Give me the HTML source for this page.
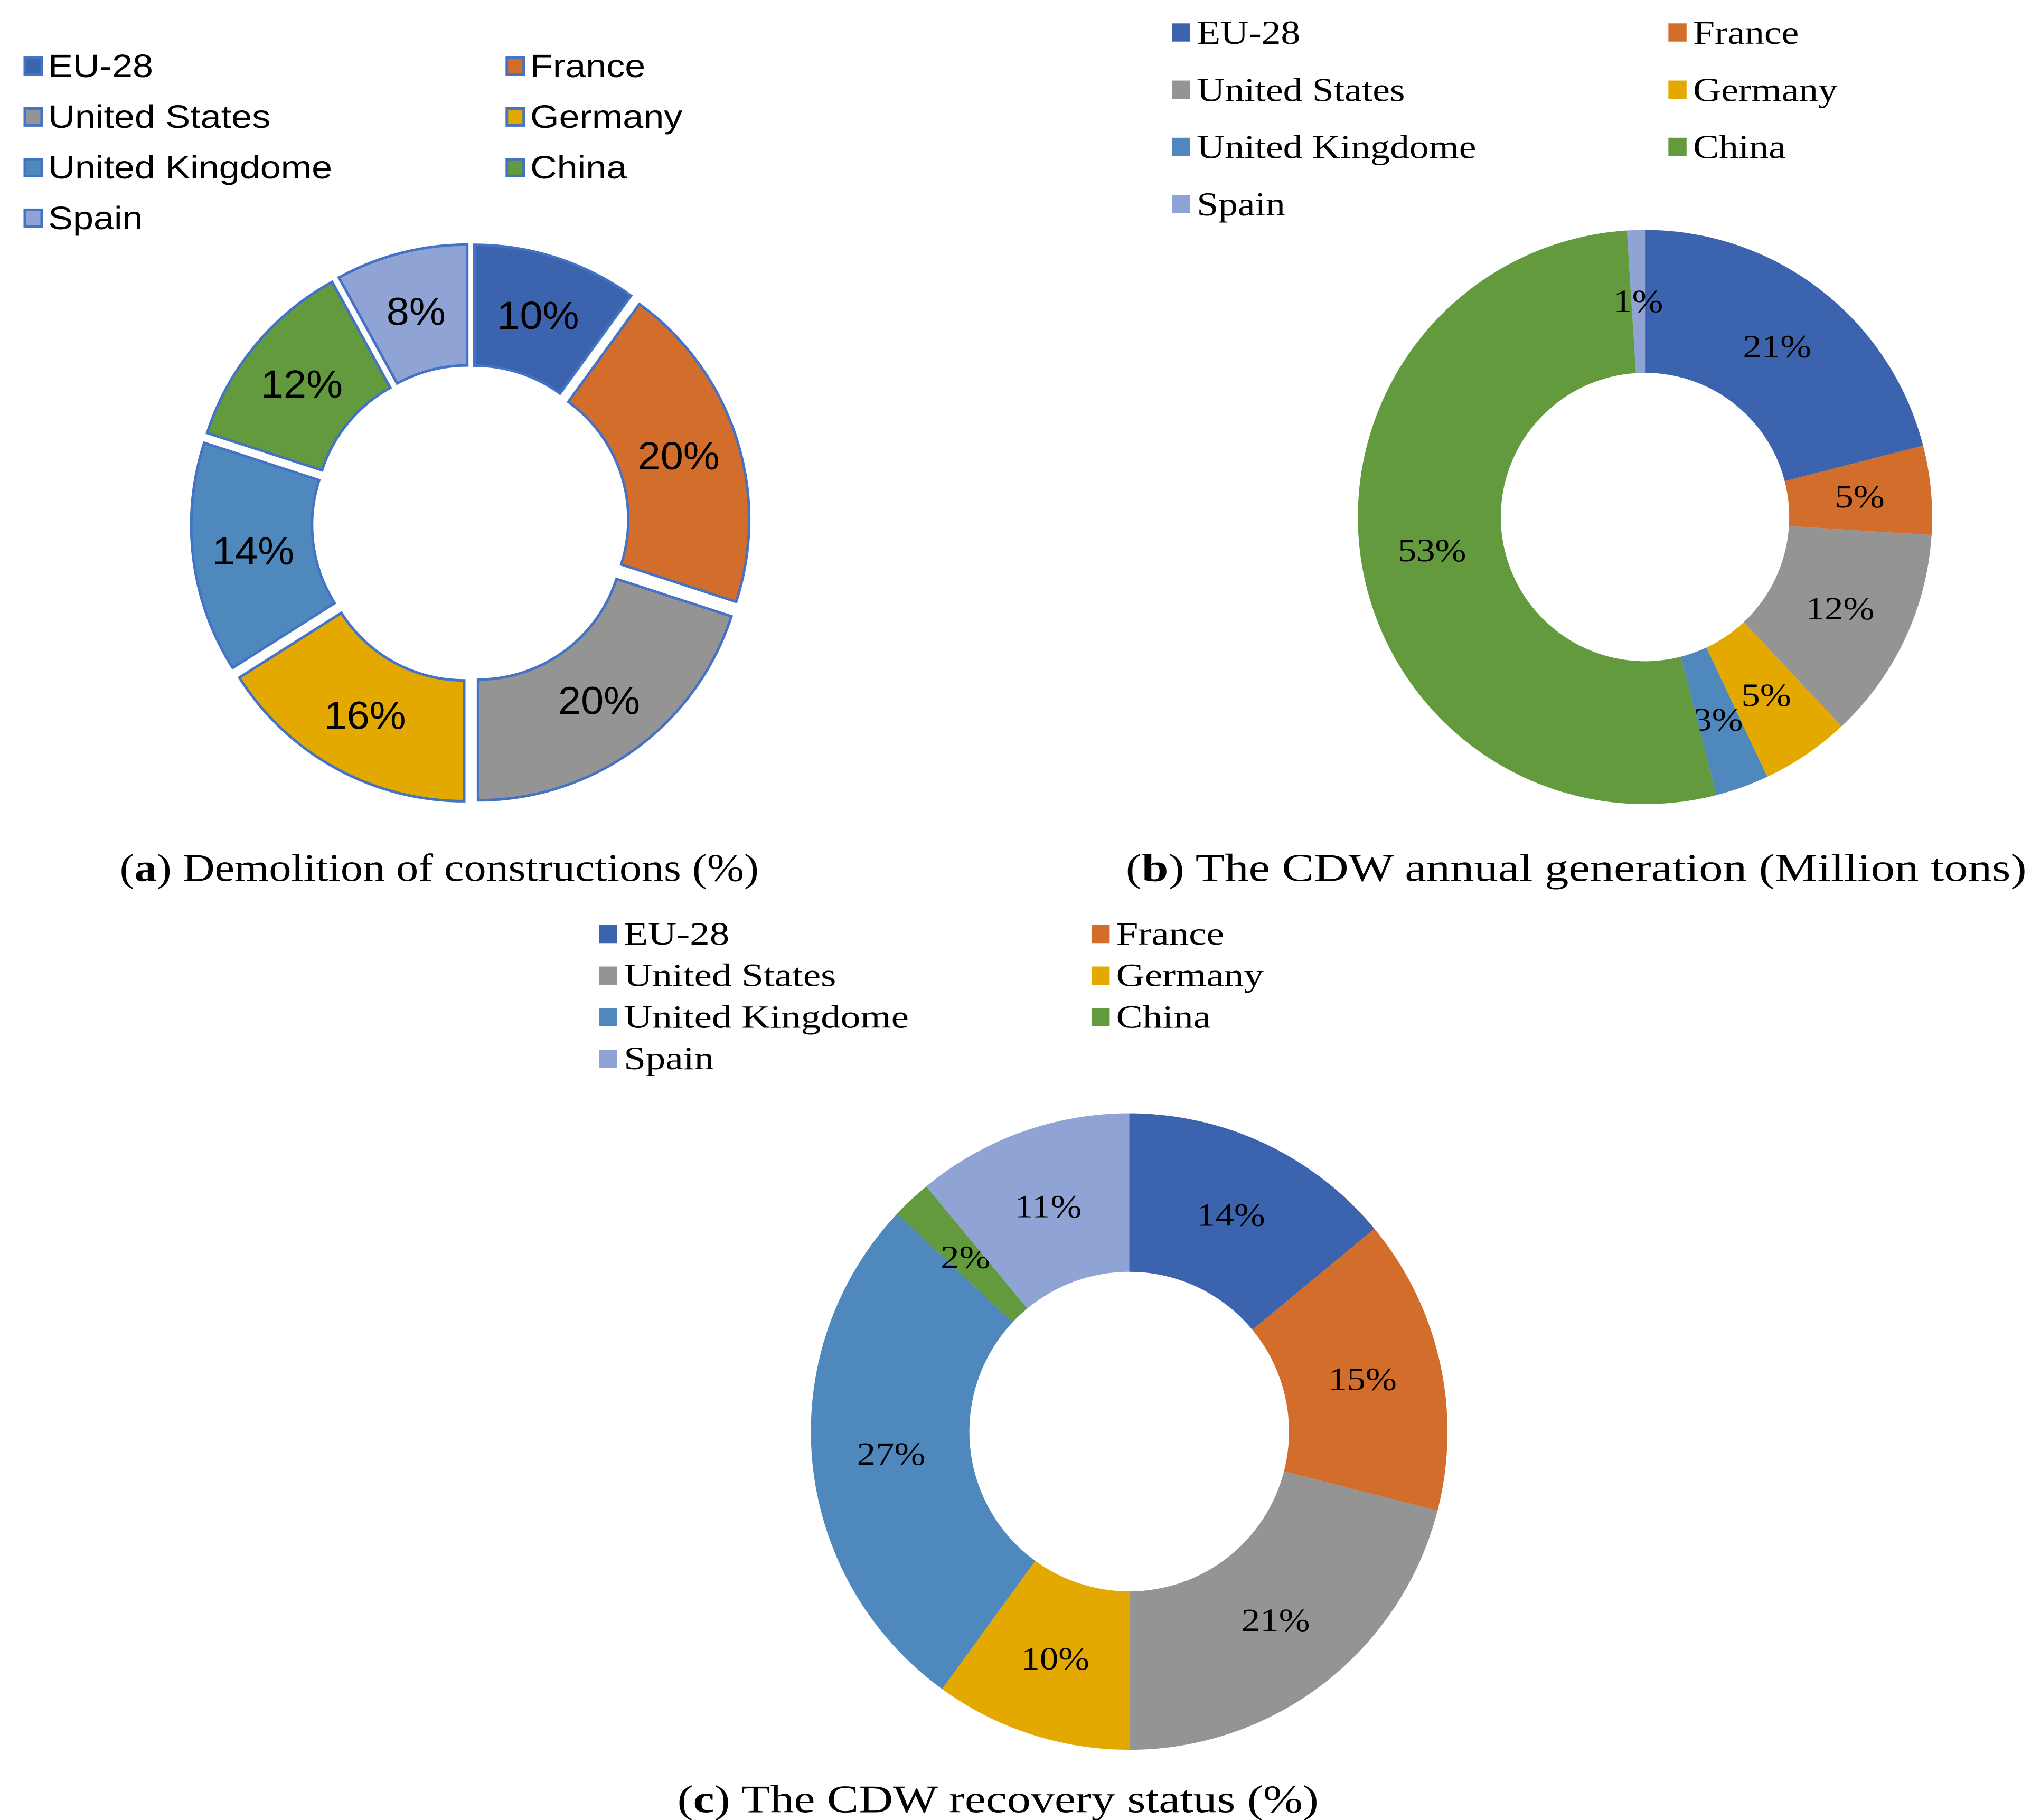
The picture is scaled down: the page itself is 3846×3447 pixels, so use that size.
<!DOCTYPE html>
<html><head><meta charset="utf-8"><style>
html,body{margin:0;padding:0;background:#fff;}
svg{display:block;}
</style></head><body>
<svg id="fig" width="3846" height="3447" viewBox="0 0 1563 1401" xmlns="http://www.w3.org/2000/svg"></svg>
<script>
const categories = ["EU-28","France","United States","Germany","United Kingdome","China","Spain"];
const colors = ["#3C63AD","#D36D2B","#949494","#E3A900","#4F88BC","#639A3D","#8FA3D5"];
const valuesA = [10,20,20,16,14,12,8];
const valuesB = [21,5,12,5,3,53,1];
const valuesC = [14,15,21,10,27,2,11];
const NS = "http://www.w3.org/2000/svg";
const svg = document.getElementById("fig");
function mk(tag, attrs, parent){ const e=document.createElementNS(NS,tag); for(const k in attrs) e.setAttribute(k,attrs[k]); (parent||svg).appendChild(e); return e; }
function stretch(t,k){ const w=t.getComputedTextLength(); t.setAttribute("textLength", w*k); t.setAttribute("lengthAdjust","spacingAndGlyphs"); }
function pt(cx,cy,r,a){ return [cx+r*Math.sin(a), cy-r*Math.cos(a)]; }
function donut(id, vals, cx, cy, ro, ri, opt){
  const g = mk("g",{});
  
  
  const tot = vals.reduce((a,b)=>a+b,0);
  let a0 = 0;
  vals.forEach((v,i)=>{
    const a1 = a0 + v/tot*2*Math.PI, am=(a0+a1)/2;
    const ox = opt.explode*Math.sin(am), oy = -opt.explode*Math.cos(am);
    const p1=pt(cx+ox,cy+oy,ro,a0), p2=pt(cx+ox,cy+oy,ro,a1), p3=pt(cx+ox,cy+oy,ri,a1), p4=pt(cx+ox,cy+oy,ri,a0);
    const lg = (a1-a0)>Math.PI?1:0;
    const d = `M${p1} A${ro},${ro} 0 ${lg} 1 ${p2} L${p3} A${ri},${ri} 0 ${lg} 0 ${p4} Z`;
    const p = mk("path",{d:d, fill:colors[i], stroke:opt.stroke, "stroke-width":opt.sw}, g);
    
    
    const lp = pt(cx+ox,cy+oy,(ro+ri)/2,am);
    const t = mk("text",{x:lp[0], y:lp[1], "text-anchor":"middle", "dominant-baseline":"central", "font-family":opt.font, "font-size":opt.fs, fill:"#000"}, g);
    t.textContent = v+"%";
    
    
    stretch(t, opt.k);
    a0 = a1;
  });
}
function legend(id, x1, x2, y0, dy, sq, fs, font, k, stroke){
  categories.forEach((c,i)=>{
    const x = i%2===0 ? x1 : x2, y = y0 + Math.floor(i/2)*dy;
    const r = mk("rect",{x:x, y:y-sq/2, width:sq, height:sq, fill:colors[i], stroke:stroke||"none", "stroke-width":2});
    
    
    const t = mk("text",{x:x+sq+5, y:y, "dominant-baseline":"central", "font-family":font, "font-size":fs, fill:"#000"});
    t.textContent = c;
    
    
    stretch(t,k);
  });
}
function caption(id, x, y, letter, rest, k){
  const t = mk("text",{x:x, y:y, "text-anchor":"middle", "dominant-baseline":"central", "font-family":"'Liberation Serif',serif", "font-size":30, fill:"#000"});
  t.innerHTML = `(<tspan font-weight="bold">${letter}</tspan>) ${rest}`;
  
  
  stretch(t,k);
}
const sans = "'Liberation Sans','DejaVu Sans',sans-serif", serif="'Liberation Serif',serif";
donut("a", valuesA, 362, 403, 205, 112, {explode:10, stroke:"#4472C4", sw:2, font:sans, fs:30, k:1.05});
legend("a", 19, 390, 51, 39, 13, 25, sans, 1.14, "#4472C4");
caption("a", 338, 668, "a", "Demolition of constructions (%)", 1.14);
donut("b", valuesB, 1266, 398, 221, 111, {explode:0, stroke:"none", sw:0, font:serif, fs:25, k:1.15});
legend("b", 902, 1284, 25, 44, 14, 26, serif, 1.15);
caption("b", 1213, 668, "b", "The CDW annual generation (Million tons)", 1.23);
donut("c", valuesC, 869, 1102, 245, 123, {explode:0, stroke:"none", sw:0, font:serif, fs:25, k:1.15});
legend("c", 461, 840, 719, 32, 14, 25, serif, 1.22);
caption("c", 768, 1385, "c", "The CDW recovery status (%)", 1.22);
</script>
</body></html>
